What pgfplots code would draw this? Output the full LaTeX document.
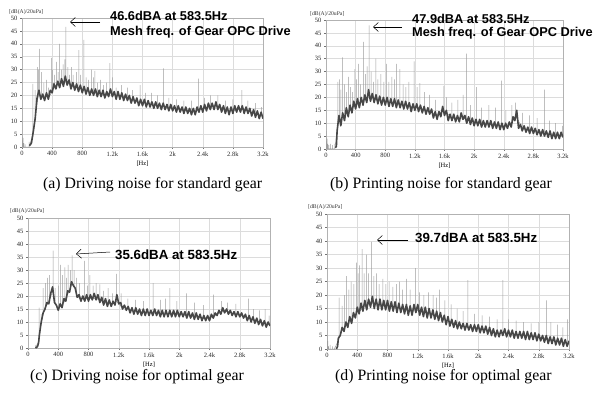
\documentclass[border=0pt]{standalone}
\usepackage{fontspec}
\setmainfont{Liberation Serif}
\newfontfamily\arial{Liberation Sans}
\usepackage{pgfplots}
\pgfplotsset{compat=1.18}
\usetikzlibrary{arrows.meta}
\definecolor{bandc}{HTML}{474747}
\definecolor{spkc}{HTML}{9C9C9C}
\definecolor{gridc}{HTML}{DCDCDC}
\pgfplotsset{
 spec/.style={scale only axis, xmin=0, xmax=3200, ymin=0, ymax=50,
  xtick={0,400,...,3200}, xticklabels={0,400,800,1.2k,1.6k,2k,2.4k,2.8k,3.2k},
  ytick={0,5,...,50},
  grid=major, major grid style={gridc, line width=0.5pt},
  axis line style={color=black!30, line width=0.5pt},
  tick style={color=black!55, line width=0.4pt},
  tick align=outside, major tick length=2pt,
  xtick pos=bottom, ytick pos=left,
  tick label style={font=\fontsize{6.5}{7}\selectfont, color=black!85},
  xticklabel style={yshift=1pt}, yticklabel style={xshift=1pt},
  /pgf/number format/assume math mode=true,
  xlabel={[Hz]},
  xlabel style={font=\fontsize{6.5}{7}\selectfont, at={(axis description cs:0.5,0)}, anchor=center, yshift=-17pt},
 },
 band/.style={color=bandc, line width=1.6pt, line join=round},
 spike/.style={color=spkc, line width=0.5pt},
}
\tikzset{
 ann/.style={font=\arial\bfseries\fontsize{12.8}{14}\selectfont, anchor=west, inner sep=0pt},
 figcap/.style={font=\fontsize{15.8}{18}\selectfont, inner sep=0pt, anchor=west},
 ylab/.style={font=\fontsize{5.7}{6}\selectfont, anchor=south west, inner sep=0pt, color=black!80},
}
\begin{document}
\begin{tikzpicture}[x=1pt,y=1pt]
\path (0,0) rectangle (601,394);
% ---------------- (a)
\begin{axis}[spec, name=pa, at={(22pt,247pt)}, anchor=south west, width=241pt, height=129pt]
\addplot[spike] coordinates {
(0,0)(0,4)(0,0)(8,0)(8,2.5)(8,0)(15,0)(15,3.5)(15,0)(25,0)(25,1.5)(25,0)(40,0)(40,1)(40,0)(95,0)(95,2)(95,0)
(146,5)(146,24.5)(146,5)(175,12)(175,22)(175,12)(204,18)(204,31)(204,18)(220,20)(220,30)(220,20)(235,20)(235,38)(235,20)
(260,19)(260,29)(260,19)(290,19)(290,25)(290,19)(324,20)(324,26)(324,20)(350,19)(350,23)(350,19)
(390,21)(390,34.5)(390,21)(405,22)(405,30)(405,22)(430,23)(430,28)(430,23)(457,24)(457,33)(457,24)
(480,24)(480,29)(480,24)(500,24)(500,40)(500,24)(525,25)(525,30)(525,25)(545,25)(545,32)(545,25)
(568,25)(568,34)(568,25)(583.5,26)(583.5,46.6)(583.5,26)(610,25)(610,31)(610,25)(630,25)(630,28)(630,25)
(657,24)(657,31)(657,24)(680,24)(680,28)(680,24)(723,23)(723,29)(723,23)(755,23)(755,37.5)(755,23)
(780,23)(780,28)(780,23)(821,22)(821,41.5)(821,22)(850,22)(850,27)(850,22)(880,22)(880,26)(880,22)
(923,21)(923,30)(923,21)(950,21)(950,27)(950,21)(968,21)(968,29.5)(968,21)(1000,21)(1000,25)(1000,21)
(1040,21)(1040,26)(1040,21)(1080,20)(1080,24)(1080,20)(1120,20)(1120,25)(1120,20)(1167,21)(1167,32.5)(1167,21)
(1200,21)(1200,27)(1200,21)(1250,20)(1250,23)(1250,20)(1320,20)(1320,24)(1320,20)(1400,19)(1400,23)(1400,19)
(1470,18)(1470,22)(1470,18)(1567,17)(1567,24)(1567,17)(1640,17)(1640,21)(1640,17)(1720,17)(1720,21)(1720,17)
(1800,16)(1800,20)(1800,16)(1877,16)(1877,30.5)(1877,16)(1950,15)(1950,19)(1950,15)(2050,15)(2050,18.5)(2050,15)
(2150,14.5)(2150,18)(2150,14.5)(2250,14)(2250,18)(2250,14)(2343,14.5)(2343,26.5)(2343,14.5)(2420,15)(2420,19)(2420,15)
(2500,15.5)(2500,20)(2500,15.5)(2600,16)(2600,20)(2600,16)(2700,14.5)(2700,18)(2700,14.5)(2800,14)(2800,18.5)(2800,14)
(2920,15)(2920,22)(2920,15)(3000,14)(3000,18)(3000,14)(3100,13)(3100,17)(3100,13)(3180,12)(3180,15.5)(3180,12)
};
\addplot[band] coordinates {
(100,0.5)(125,1.5)(150,6)(175,11)(200,19)(225,22)(250,18.5)(275,20.5)(300,18)(325,21)(350,18.5)(375,22)
(400,21)(425,24.5)(450,22.5)(475,25.5)(500,23)(525,26.5)(550,23.5)(575,27.5)(600,24)(625,26)(650,22.5)(675,25)
(700,22)(725,24.5)(750,21.5)(775,24)(800,21)(825,23.5)(850,20.5)(875,23)(900,20)(925,22.5)(950,20)(975,22.5)
(1000,19.5)(1025,22)(1050,19.5)(1075,22)(1100,19)(1125,21.5)(1150,19.5)(1175,22.5)(1200,19.5)(1225,21.5)(1250,18.5)(1275,21.5)
(1300,18.5)(1325,21)(1350,18)(1375,20.5)(1400,18)(1425,20)(1450,17)(1475,19.5)(1500,17)(1525,19)(1550,16)(1575,18.5)
(1600,16)(1625,18.5)(1650,15.5)(1675,18)(1700,15.5)(1725,17.5)(1750,15)(1775,17.5)(1800,15)(1825,17)(1850,14.5)(1875,17)
(1900,14.5)(1925,16.5)(1950,14)(1975,16.5)(2000,14)(2025,16)(2050,13.5)(2075,16)(2100,13.5)(2125,15.5)(2150,13)(2175,15.5)
(2200,13)(2225,15)(2250,12.5)(2275,15)(2300,12.5)(2325,15.5)(2350,13.5)(2375,16)(2400,13.5)(2425,16.5)(2450,14)(2475,17)
(2500,14.5)(2525,17)(2550,14.5)(2575,17.5)(2600,14.5)(2625,16.5)(2650,13.5)(2675,16)(2700,13)(2725,15.5)(2750,12.5)(2775,15.5)
(2800,13)(2825,16)(2850,13.5)(2875,16)(2900,13.5)(2925,16)(2950,13)(2975,15.5)(3000,13)(3025,15)(3050,12)(3075,14.5)
(3100,11.5)(3125,14)(3150,11)(3175,13.5)(3200,11)
};
\end{axis}
% ---------------- (b)
\begin{axis}[spec, name=pb, at={(326pt,245pt)}, anchor=south west, width=237pt, height=129pt]
\addplot[spike] coordinates {
(0,0)(0,7)(0,0)(8,0)(8,3)(8,0)(15,0)(15,4)(15,0)(25,0)(25,2)(25,0)(40,0)(40,1.5)(40,0)(60,0)(60,2)(60,0)(90,0)(90,1.5)(90,0)(120,0)(120,2)(120,0)
(160,10)(160,26)(160,10)(180,12)(180,27)(180,12)(200,11)(200,23)(200,11)(225,13)(225,35.5)(225,13)(250,13)(250,25)(250,13)
(275,14)(275,22)(275,14)(301,15)(301,28)(301,15)(330,15)(330,24)(330,15)(360,16)(360,22)(360,16)(391,17)(391,31)(391,17)
(415,17)(415,27)(415,17)(436,18)(436,33)(436,18)(465,18)(465,25)(465,18)(503,19)(503,41.5)(503,19)(530,19)(530,29)(530,19)
(555,20)(555,32)(555,20)(583.5,21)(583.5,47.9)(583.5,21)(610,20)(610,30)(610,20)(640,20)(640,26)(640,20)(674,19)(674,35)(674,19)
(700,19)(700,27)(700,19)(740,19)(740,29)(740,19)(780,18.5)(780,26)(780,18.5)(818,18.5)(818,33)(818,18.5)(850,18)(850,26)(850,18)
(890,18)(890,28)(890,18)(925,18)(925,27)(925,18)(953,18)(953,33)(953,18)(998,17.5)(998,31)(998,17.5)(1040,17)(1040,25)(1040,17)
(1080,17)(1080,24)(1080,17)(1120,17)(1120,26)(1120,17)(1191,16)(1191,34)(1191,16)(1230,16)(1230,24)(1230,16)(1267,16)(1267,25.5)(1267,16)
(1330,15)(1330,22)(1330,15)(1400,15)(1400,21)(1400,15)(1480,13)(1480,19)(1480,13)(1590,15)(1590,24.5)(1590,15)(1627,14)(1627,20)(1627,14)
(1700,12)(1700,18)(1700,12)(1780,12)(1780,19)(1780,12)(1850,12)(1850,21)(1850,12)(1897,11.5)(1897,37)(1897,11.5)(1950,11)(1950,17)(1950,11)
(2031,10.5)(2031,24)(2031,10.5)(2100,10)(2100,16)(2100,10)(2200,10)(2200,17)(2200,10)(2290,9.5)(2290,16)(2290,9.5)(2369,9)(2369,26.5)(2369,9)
(2430,9)(2430,15)(2430,9)(2510,10)(2510,17)(2510,10)(2560,13)(2560,18)(2560,13)(2650,8)(2650,14)(2650,8)(2750,7.5)(2750,13)(2750,7.5)
(2850,7)(2850,12)(2850,7)(2953,6.5)(2953,23)(2953,6.5)(3020,6)(3020,11)(3020,6)(3100,5.5)(3100,10)(3100,5.5)(3190,5)(3190,9)(3190,5)
};
\addplot[band] coordinates {
(125,0.5)(140,1)(150,7)(175,13)(200,9)(225,14)(250,11)(275,16)(300,12.5)(325,17)(350,14)(375,18.5)
(400,15.5)(425,19.5)(450,16)(475,20)(500,17)(525,21)(550,18)(575,23)(600,18.5)(625,21.5)(650,18)(675,21)
(700,17.5)(725,20.5)(750,17)(775,20)(800,17)(825,20)(850,16.5)(875,19.5)(900,16.5)(925,19.5)(950,16)(975,19)
(1000,16)(1025,18.5)(1050,15.5)(1075,18.5)(1100,15.5)(1125,18)(1150,14.5)(1175,17.5)(1200,15)(1225,17.5)(1250,14.5)(1275,17)
(1300,14)(1325,16.5)(1350,13.5)(1375,16)(1400,13.5)(1425,15.5)(1450,12)(1475,14.5)(1500,11.5)(1525,14.5)(1550,12.5)(1575,16.5)
(1600,13)(1625,15)(1650,11)(1675,13.5)(1700,11)(1725,13.5)(1750,10.5)(1775,13)(1800,10.5)(1825,14)(1850,11.5)(1875,13)
(1900,10)(1925,12.5)(1950,9.5)(1975,12)(2000,9)(2025,11.5)(2050,9)(2075,11.5)(2100,8.5)(2125,11)(2150,8.5)(2175,11)
(2200,8.5)(2225,11)(2250,8)(2275,10.5)(2300,8)(2325,10.5)(2350,7.5)(2375,10)(2400,7.5)(2425,10)(2450,8)(2475,10.5)
(2500,8.5)(2525,12.5)(2550,11)(2575,15)(2600,8)(2625,9.5)(2650,7)(2675,9)(2700,6.5)(2725,8.5)(2750,6)(2775,8.5)
(2800,6)(2825,8)(2850,5.5)(2875,7.5)(2900,5)(2925,7.5)(2950,5)(2975,7)(3000,4.5)(3025,7)(3050,4)(3075,6.5)
(3100,4)(3125,6.5)(3150,4)(3175,6.5)(3200,4.5)
};
\end{axis}
% ---------------- (c)
\begin{axis}[spec, name=pc, at={(28pt,46pt)}, anchor=south west, width=242pt, height=130pt]
\addplot[spike] coordinates {
(100,0)(100,1)(100,0)(146,3)(146,15.5)(146,3)(175,10)(175,13)(175,10)(199,13)(199,23)(199,13)(230,16)(230,25)(230,16)
(260,17)(260,27)(260,17)(287,19)(287,28)(287,19)(331,22)(331,37.5)(331,22)(360,17)(360,23)(360,17)(400,15)(400,24)(400,15)
(428,16)(428,32)(428,16)(455,17)(455,28)(455,17)(486,18)(486,31)(486,18)(510,20)(510,27)(510,20)(530,21)(530,32)(530,21)
(560,23)(560,30)(560,23)(583.5,25)(583.5,35.6)(583.5,25)(610,24)(610,30)(610,24)(640,21)(640,27)(640,21)(680,19)(680,25)(680,19)
(750,19)(750,33.5)(750,19)(790,19)(790,24)(790,19)(817,19)(817,28)(817,19)(860,19)(860,24)(860,19)(900,19)(900,25)(900,19)
(949,18.5)(949,24.5)(949,18.5)(1000,17.5)(1000,22)(1000,17.5)(1060,17)(1060,23)(1060,17)(1120,17)(1120,21)(1120,17)(1170,18)(1170,28.5)(1170,18)
(1230,16)(1230,21)(1230,16)(1320,15)(1320,19)(1320,15)(1420,14)(1420,18.5)(1420,14)(1530,13.5)(1530,18)(1530,13.5)(1655,13.5)(1655,25)(1655,13.5)
(1750,13)(1750,18.5)(1750,13)(1820,13)(1820,19)(1820,13)(1876,13)(1876,23)(1876,13)(1970,13)(1970,18)(1970,13)(2097,12.5)(2097,21)(2097,12.5)
(2200,12)(2200,17.5)(2200,12)(2320,11.5)(2320,16.5)(2320,11.5)(2450,12)(2450,20.5)(2450,12)(2560,14)(2560,18)(2560,14)(2640,14)(2640,17.5)(2640,14)
(2750,13)(2750,17)(2750,13)(2913,11.5)(2913,19)(2913,11.5)(2980,11)(2980,15)(2980,11)(3060,10)(3060,14.5)(3060,10)(3134,9.5)(3134,15)(3134,9.5)(3190,9)(3190,12.5)(3190,9)
};
\addplot[band] coordinates {
(100,0)(125,0.5)(140,2)(150,5)(175,10)(200,13.5)(225,15)(250,17.5)(275,17)(300,21)(325,23.5)(350,17.5)(375,16.5)
(400,14.5)(425,17)(450,15.5)(475,19)(500,18)(525,22)(550,21.5)(575,25.5)(600,24)(625,23)(650,19.5)(675,20.5)
(700,18)(725,20)(750,18)(775,20.5)(800,18)(825,20.5)(850,18.5)(875,21)(900,18.5)(925,20.5)(950,17.5)(975,19.5)
(1000,16.5)(1025,19)(1050,16)(1075,18.5)(1100,16)(1125,18)(1150,16.5)(1175,20.5)(1200,17)(1225,17.5)(1250,15)(1275,16.5)
(1300,14.5)(1325,16)(1350,13.5)(1375,15.5)(1400,13)(1425,15.5)(1450,13)(1475,15)(1500,12.5)(1525,15)(1550,12.5)(1575,15)
(1600,12.5)(1625,14.5)(1650,12.5)(1675,15)(1700,12.5)(1725,14.5)(1750,12)(1775,14.5)(1800,12)(1825,14.5)(1850,12)(1875,14.5)
(1900,12)(1925,14.5)(1950,12)(1975,14.5)(2000,12)(2025,14)(2050,12)(2075,14)(2100,11.5)(2125,14)(2150,11.5)(2175,13.5)
(2200,11)(2225,13.5)(2250,11)(2275,13)(2300,10.5)(2325,12.5)(2350,10.5)(2375,12.5)(2400,10.5)(2425,13)(2450,11.5)(2475,13.5)
(2500,12.5)(2525,14.5)(2550,13)(2575,15.5)(2600,13.5)(2625,15)(2650,13)(2675,14.5)(2700,12.5)(2725,14)(2750,12)(2775,14)
(2800,12)(2825,13.5)(2850,11.5)(2875,13)(2900,10.5)(2925,12.5)(2950,10)(2975,12)(3000,9.5)(3025,11.5)(3050,9)(3075,11)
(3100,8.5)(3125,10.5)(3150,8)(3175,10)(3200,8.5)
};
\end{axis}
% ---------------- (d)
\begin{axis}[spec, name=pd, at={(327pt,45pt)}, anchor=south west, width=242pt, height=135pt]
\addplot[spike] coordinates {
(0,0)(0,5)(0,0)(5,0)(5,2)(5,0)(12,0)(12,3)(12,0)(20,0)(20,1)(20,0)(40,0)(40,1.5)(40,0)(70,0)(70,1)(70,0)(100,0)(100,0.5)(100,0)
(160,4)(160,19)(160,4)(200,7)(200,16)(200,7)(230,8)(230,20)(230,8)(256,9)(256,27)(256,9)(290,10)(290,22)(290,10)
(320,11)(320,25)(320,11)(355,12)(355,24)(355,12)(388,13)(388,32)(388,13)(410,14)(410,28)(410,14)(432,14)(432,31)(432,14)
(463,15)(463,37)(463,15)(490,16)(490,28)(490,16)(520,16)(520,35)(520,16)(550,17)(550,28)(550,17)(586,17)(586,39.7)(586,17)
(620,17)(620,27)(620,17)(652,17)(652,28)(652,17)(690,16)(690,24)(690,16)(740,16)(740,26)(740,16)(780,16)(780,24)(780,16)
(820,16)(820,25)(820,16)(870,15.5)(870,23)(870,15.5)(920,15.5)(920,24)(920,15.5)(961,15)(961,25)(961,15)(1000,15)(1000,22)(1000,15)
(1049,14.5)(1049,26)(1049,14.5)(1100,14)(1100,22)(1100,14)(1168,14.5)(1168,30)(1168,14.5)(1220,14)(1220,21)(1220,14)(1280,13.5)(1280,20)(1280,13.5)
(1340,13)(1340,21)(1340,13)(1402,13)(1402,20)(1402,13)(1450,12)(1450,19)(1450,12)(1490,12)(1490,22)(1490,12)(1560,11)(1560,18)(1560,11)
(1640,10)(1640,16.5)(1640,10)(1720,9)(1720,15)(1720,9)(1800,8.5)(1800,14)(1800,8.5)(1864,8)(1864,25.5)(1864,8)(1950,8)(1950,13)(1950,8)
(2050,7.5)(2050,12.5)(2050,7.5)(2150,7)(2150,12)(2150,7)(2250,6)(2250,11)(2250,6)(2327,6)(2327,25.5)(2327,6)(2400,6)(2400,11)(2400,6)
(2500,5.5)(2500,10.5)(2500,5.5)(2600,5)(2600,10)(2600,5)(2700,5)(2700,9.5)(2700,5)(2800,4.5)(2800,10)(2800,4.5)(2900,4)(2900,18)(2900,4)
(2960,3.5)(2960,10)(2960,3.5)(3050,3)(3050,9)(3050,3)(3120,2.5)(3120,8)(3120,2.5)(3180,2)(3180,11)(3180,2)
};
\addplot[band] coordinates {
(125,0)(140,1)(150,4)(175,5)(200,8)(225,6.5)(250,10)(275,8)(300,12)(325,9.5)(350,13.5)(375,11.5)
(400,15.5)(425,13)(450,17)(475,14)(500,18)(525,14.5)(550,18.5)(575,15.5)(600,19.5)(625,15)(650,18.5)(675,14.5)
(700,18.5)(725,14.5)(750,18)(775,14.5)(800,18)(825,14)(850,17.5)(875,14)(900,17.5)(925,13.5)(950,17)(975,13.5)
(1000,16.5)(1025,13)(1050,16.5)(1075,12.5)(1100,16)(1125,12.5)(1150,16.5)(1175,13.5)(1200,16.5)(1225,12.5)(1250,15.5)(1275,12)
(1300,15.5)(1325,11.5)(1350,15)(1375,11.5)(1400,14.5)(1425,11)(1450,14)(1475,10.5)(1500,13.5)(1525,10)(1550,12.5)(1575,9)
(1600,12)(1625,8.5)(1650,11)(1675,8)(1700,10.5)(1725,7.5)(1750,10)(1775,7.5)(1800,9.5)(1825,7)(1850,9.5)(1875,7)
(1900,9)(1925,6.5)(1950,9)(1975,6.5)(2000,9)(2025,6)(2050,8.5)(2075,6)(2100,8.5)(2125,5.5)(2150,8)(2175,5)
(2200,7.5)(2225,4.5)(2250,7)(2275,4.5)(2300,7)(2325,5)(2350,7.5)(2375,4.5)(2400,7)(2425,4.5)(2450,7)(2475,4)
(2500,6.5)(2525,4)(2550,6.5)(2575,4)(2600,6.5)(2625,3.5)(2650,6.5)(2675,3.5)(2700,6)(2725,3.5)(2750,6)(2775,3)
(2800,5.5)(2825,3)(2850,5)(2875,2.5)(2900,5)(2925,2)(2950,4.5)(2975,2)(3000,4.5)(3025,1.5)(3050,4)(3075,1.5)
(3100,4)(3125,1)(3150,3.5)(3175,1)(3200,3)
};
\end{axis}
% y-axis unit labels
\node[ylab] at ([xshift=-13pt,yshift=3pt]pa.north west) {[dB(A)/20uPa]};
\node[ylab] at ([xshift=-16pt,yshift=3pt]pb.north west) {[dB(A)/20uPa]};
\node[ylab] at ([xshift=-18pt,yshift=4pt]pc.north west) {[dB(A)/20uPa]};
\node[ylab] at ([xshift=-19pt,yshift=4pt]pd.north west) {[dB(A)/20uPa]};
% annotations
\node[ann] at (110,378) {46.6dBA at 583.5Hz};
\node[ann] at (110,362) {Mesh freq. of Gear OPC Drive};
\draw[-{Straight Barb[length=5pt,width=9pt]}, line width=0.5pt] (100,372) -- (70,372);
\node[ann] at (412,375) {47.9dBA at 583.5Hz};
\node[ann] at (412,361) {Mesh freq. of Gear OPC Drive};
\draw[-{Straight Barb[length=5pt,width=9pt]}, line width=0.5pt] (402,367) -- (373,367);
\node[ann, font=\arial\bfseries\fontsize{13.3}{15}\selectfont] at (115,139) {35.6dBA at 583.5Hz};
\draw[-{Straight Barb[length=5pt,width=9pt]}, line width=0.5pt] (110,142) -- (76,140);
\node[ann, font=\arial\bfseries\fontsize{13.3}{15}\selectfont] at (415,156) {39.7dBA at 583.5Hz};
\draw[-{Straight Barb[length=5pt,width=9pt]}, line width=0.5pt] (408,154) -- (377,154);
% captions
\node[figcap] at (43,209) {(a) Driving noise for standard gear};
\node[figcap] at (330,209) {(b) Printing noise for standard gear};
\node[figcap] at (30,17) {(c) Driving noise for optimal gear};
\node[figcap] at (335,17) {(d) Printing noise for optimal gear};
\end{tikzpicture}
\end{document}
